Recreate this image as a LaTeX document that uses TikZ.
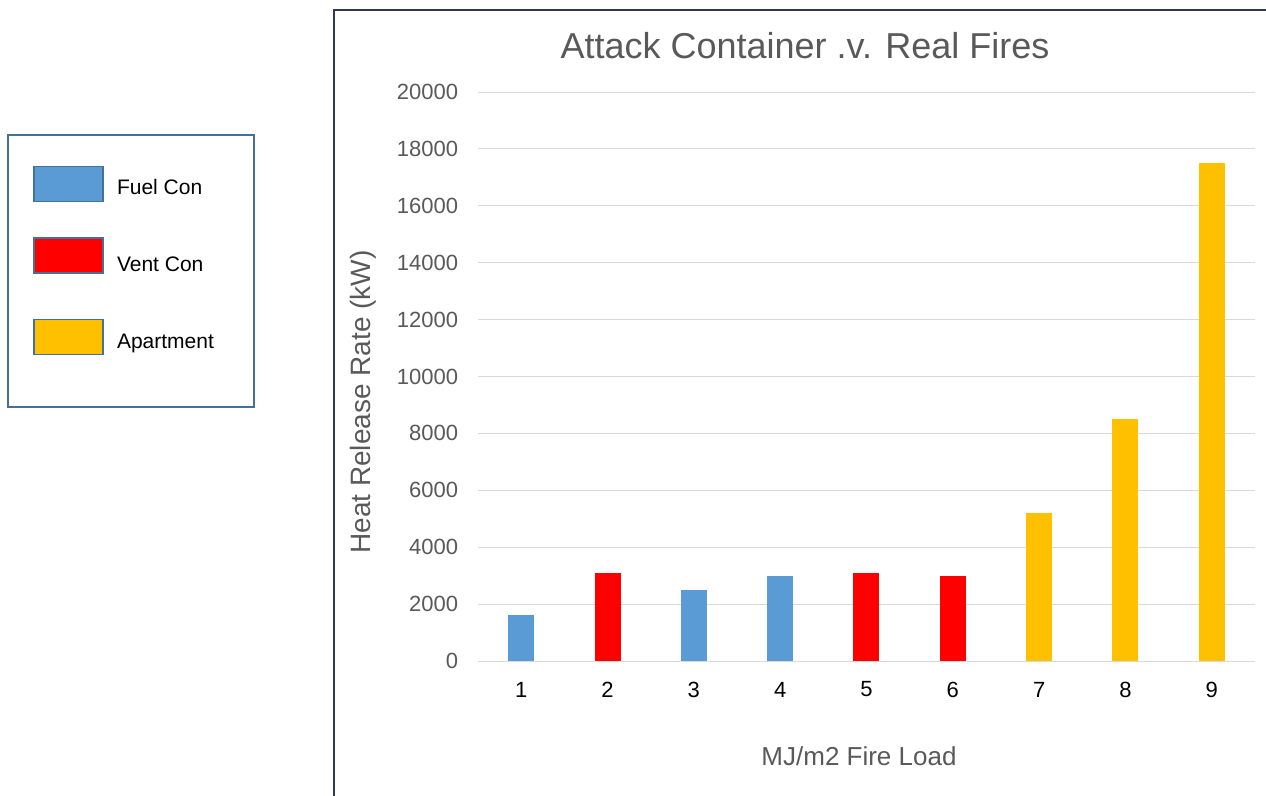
\documentclass[tikz,border=0pt]{standalone}
\usepackage{fontspec}
\setmainfont{Liberation Sans}
\usetikzlibrary{positioning}
\definecolor{fuelcon}{HTML}{5B9BD5}
\definecolor{ventcon}{HTML}{FF0000}
\definecolor{apartment}{HTML}{FFC000}
\definecolor{framecolor}{HTML}{2F3856}
\definecolor{legendedge}{HTML}{41719C}
\definecolor{axistext}{HTML}{595959}
\definecolor{gridgray}{HTML}{D9D9D9}
\newcommand{\pxfont}[1]{\fontsize{#1}{#1}\selectfont}

\begin{document}
\begin{tikzpicture}[
    x=1pt, y=-1pt,
    every node/.style={inner sep=0pt, outer sep=0pt},
    ticklabel/.style={font=\pxfont{22}, text=axistext, anchor=east},
    catlabel/.style={font=\pxfont{22}, text=black},
    gridline/.style={draw=gridgray, line width=1pt},
    swatch/.style={draw=legendedge, line width=1.5pt, minimum width=69pt, minimum height=35pt},
    legendlabel/.style={font=\pxfont{21}, text=black, anchor=base west}
]
\useasboundingbox (0,0) rectangle (1266,795);

% chart frame
\draw[framecolor, line width=2pt] (334,800) -- (334,10) -- (1270,10);

% grid and value axis
\foreach \k in {0,...,10} {
  \pgfmathsetmacro\yk{661-56.9*\k}
  \coordinate (gl\k) at (478,\yk);
  \coordinate (gr\k) at (1255,\yk);
  \draw[gridline] (gl\k) -- (gr\k);
  \node[ticklabel] (tick\k) at (458,\yk) {\number\numexpr2000*\k\relax};
}

% bars (values in kW / 100)
\foreach \i/\v/\c in {1/16/fuelcon, 2/31/ventcon, 3/25/fuelcon,
                      4/30/fuelcon, 5/31/ventcon, 6/30/ventcon,
                      7/52/apartment, 8/85/apartment, 9/175/apartment} {
  \pgfmathsetmacro\xc{478+86.33*(\i-0.5)}
  \pgfmathsetmacro\yt{661-\v*2.845}
  \fill[\c] ({\xc-13},661) rectangle ({\xc+13},\yt);
  \node[catlabel] (cat\i) at (\xc,689.5) {\i};
}

% titles
\node[font=\pxfont{36}, text=axistext, anchor=base] (title) at (805,58) {Attack Container .v. Real Fires};
\node[font=\pxfont{28}, text=axistext, rotate=90] (ytitle) at (363,402) {Heat Release Rate (kW)};
\node[font=\pxfont{26}, text=axistext, anchor=base] (xtitle) at (859,765) {MJ/m2 Fire Load};

% legend
\node[draw=legendedge, line width=1.5pt, minimum width=246pt, minimum height=272pt] (legend) at (131,271) {};
\node[swatch, fill=fuelcon] (swfuel) at (68.5,184) {};
\node[swatch, fill=ventcon] (swvent) at (68.5,255.5) {};
\node[swatch, fill=apartment] (swapt) at (68.5,337) {};
\node[legendlabel] (lbfuel) at (117,194) {Fuel Con};
\node[legendlabel] (lbvent) at (117,271) {Vent Con};
\node[legendlabel] (lbapt) at (117,348) {Apartment};

\end{tikzpicture}
\end{document}
